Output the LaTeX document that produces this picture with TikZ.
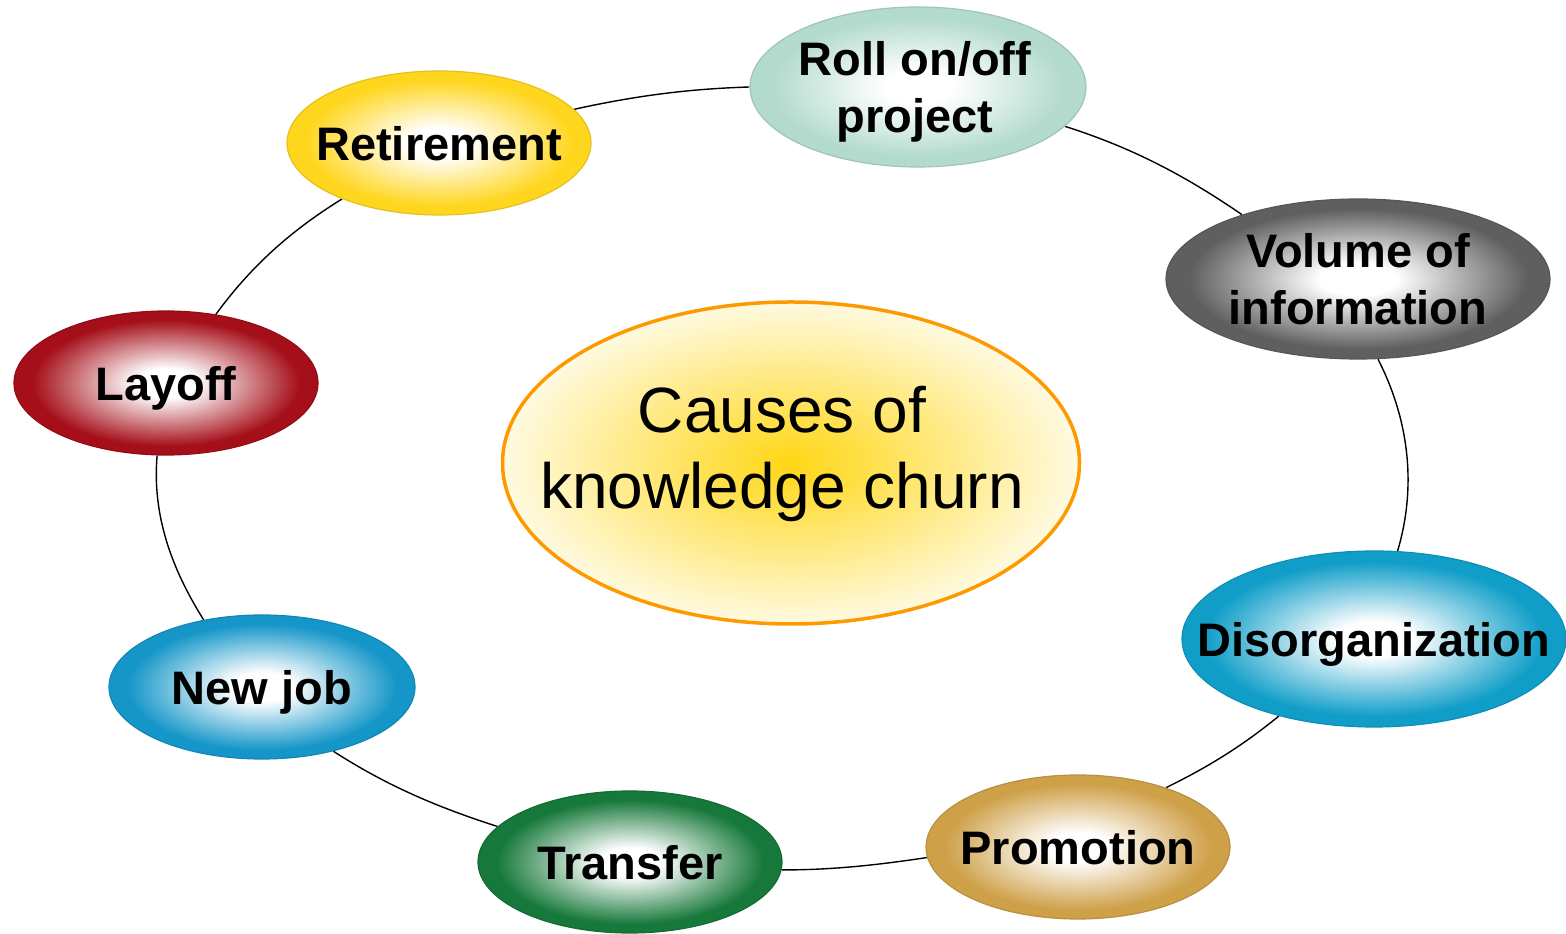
\documentclass[tikz,border=0pt]{standalone}
\usepackage{fontspec}
\setmainfont{Liberation Sans}
\usetikzlibrary{shapes.geometric,backgrounds}
\colorlet{glowc}{white}
\pgfdeclareradialshading[glowc]{glow}{\pgfpoint{0bp}{0bp}}{color(0bp)=(white); color(5bp)=(white); color(22bp)=(glowc); color(25bp)=(glowc); color(50bp)=(glowc)}
\definecolor{cRet}{RGB}{255,214,30}
\definecolor{cRoll}{RGB}{178,218,205}
\definecolor{cVol}{RGB}{95,95,95}
\definecolor{cDis}{RGB}{16,158,200}
\definecolor{cPro}{RGB}{206,160,72}
\definecolor{cTra}{RGB}{22,120,58}
\definecolor{cNew}{RGB}{20,150,200}
\definecolor{cLay}{RGB}{165,15,25}
\definecolor{cOrange}{RGB}{255,153,0}
\definecolor{cCin}{RGB}{255,214,20}
\definecolor{cCout}{RGB}{255,250,225}
\newcommand\ztab[1]{\begin{tabular}{@{}c@{}}#1\end{tabular}}
\begin{document}
\begin{tikzpicture}[x=1pt,y=1pt,
  bubble/.style args={#1/#2/#3}{ellipse, draw=#1!90!black, line width=1.2pt,
     minimum width=#2, minimum height=#3, inner sep=0pt,
     /utils/exec={\colorlet{glowc}{#1}}, shading=glow},
  lbl/.style={inner sep=0pt, font=\fontsize{47}{57}\selectfont\bfseries},
  hublbl/.style={inner sep=0pt, font=\fontsize{64}{76}\selectfont},
  link/.style={draw=black, line width=1.4pt, looseness=0.9}]
\useasboundingbox (0,0) rectangle (1566,934);
\node[ellipse, draw=cOrange, line width=3.5pt, minimum width=577pt, minimum height=322pt,
      inner sep=0pt, inner color=cCin, outer color=cCout] (hub) at (791,471) {};
\node[bubble=cRet/304pt/144pt]  (ret)  at (439,791) {};
\node[bubble=cRoll/336pt/160pt] (roll) at (918,847) {};
\node[bubble=cVol/384pt/160pt]  (vol)  at (1358,655) {};
\node[bubble=cDis/384pt/176pt]  (dis)  at (1374,295) {};
\node[bubble=cPro/304pt/144pt]  (pro)  at (1078,87) {};
\node[bubble=cTra/304pt/142pt]  (tra)  at (630,72) {};
\node[bubble=cNew/306pt/144pt]  (new)  at (262,247) {};
\node[bubble=cLay/304pt/144pt]  (lay)  at (166,551) {};
\node[hublbl] (hub-t) at ([xshift=-9pt,yshift=8pt]hub.center) {\ztab{Causes of\\knowledge churn}};
\node[lbl] (ret-t)  at ([yshift=-6pt]ret.center)  {\ztab{Retirement}};
\node[lbl] (roll-t) at ([xshift=-3pt,yshift=-6pt]roll.center) {\ztab{Roll on/off\\project}};
\node[lbl] (vol-t)  at ([yshift=-6pt]vol.center)  {\ztab{Volume of\\information}};
\node[lbl] (dis-t)  at ([yshift=-6pt]dis.center)  {\ztab{Disorganization}};
\node[lbl] (pro-t)  at ([yshift=-6pt]pro.center)  {\ztab{Promotion}};
\node[lbl] (tra-t)  at ([yshift=-6pt]tra.center)  {\ztab{Transfer}};
\node[lbl] (new-t)  at ([yshift=-6pt]new.center)  {\ztab{New job}};
\node[lbl] (lay-t)  at ([yshift=-6pt]lay.center)  {\ztab{Layoff}};
\begin{scope}[on background layer]
\draw[link] (ret.14.4)   to[out=12.4,in=181.8]  (roll.180.3);
\draw[link] (roll.-15.6) to[out=-17.6,in=145.5] (vol.151.1);
\draw[link] (vol.-76.5)  to[out=-62.9,in=73.4]  (dis.75.5);
\draw[link] (dis.219.7)  to[out=219.3,in=26.1]  (pro.34);
\draw[link] (pro.184.9)  to[out=188.5,in=0]     (tra.-3);
\draw[link] (tra.165.3)  to[out=162.2,in=-32.8] (new.-42.5);
\draw[link] (new.131.8)  to[out=122.1,in=265.1] (lay.263.8);
\draw[link] (lay.54.2)   to[out=53.8,in=211.8]  (ret.210.7);
\end{scope}
\end{tikzpicture}
\end{document}
